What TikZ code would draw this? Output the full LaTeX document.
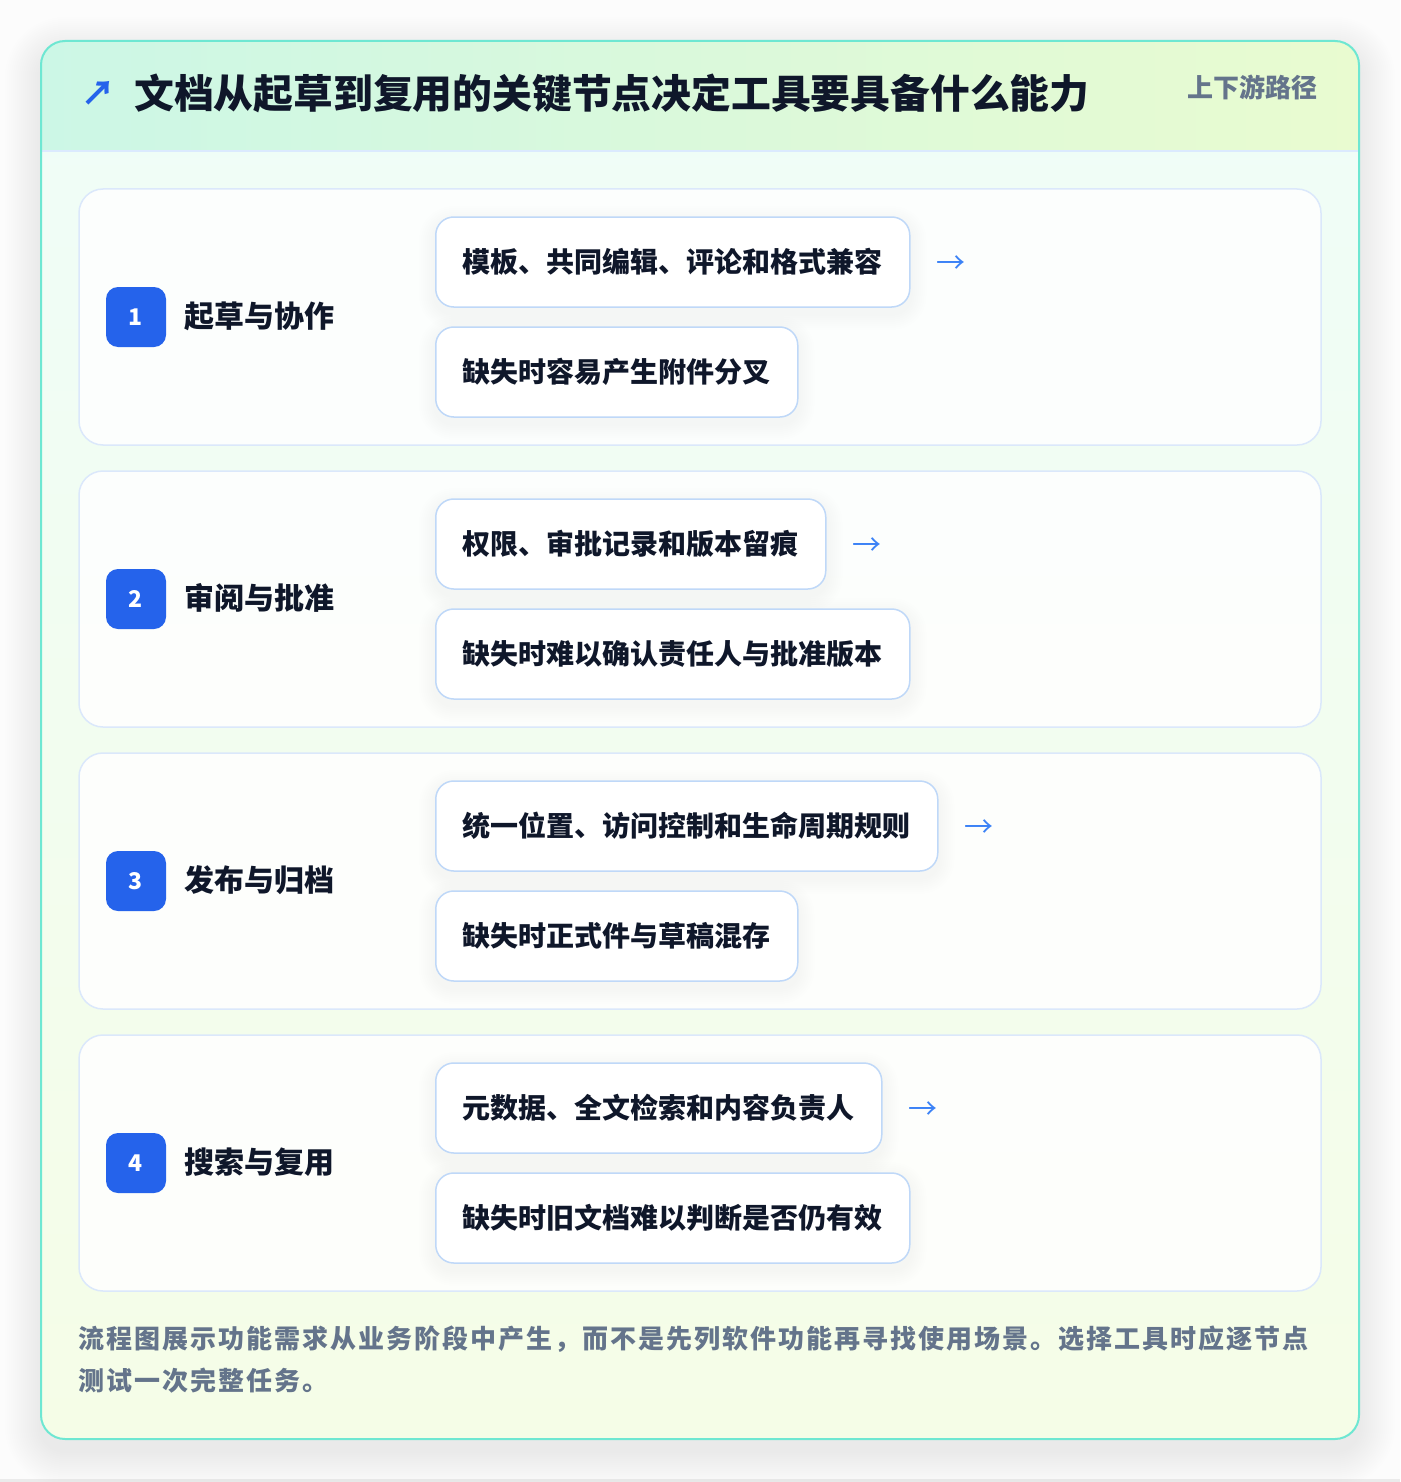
\documentclass[tikz,border=0pt]{standalone}
\usepackage{fontspec}
\setmainfont{Noto Sans CJK SC}
\definecolor{pagebg}{HTML}{FCFCFC}
\definecolor{cardteal}{HTML}{6EE7D2}
\definecolor{hdrL}{HTML}{CCF7E6}
\definecolor{hdrR}{HTML}{E9FBD0}
\definecolor{bodyT}{HTML}{EFFDF8}
\definecolor{bodyB}{HTML}{F5FDE7}
\definecolor{sepline}{HTML}{DBEAFE}
\definecolor{stageline}{HTML}{DBE8FB}
\definecolor{itemline}{HTML}{BFD8F8}
\definecolor{ink}{HTML}{0F172A}
\definecolor{muted}{HTML}{64748B}
\definecolor{badgeblue}{HTML}{2563EB}
\definecolor{arrowblue}{HTML}{3B82F6}
\newdimen\sprgap
\sprgap=2pt
\def\spr#1{\ifx\relax#1\else#1\hskip\sprgap\expandafter\spr\fi}
\pgfdeclarelayer{pagelayer}
\pgfdeclarelayer{cardlayer}
\pgfdeclarelayer{shadowlayer}
\pgfsetlayers{pagelayer,cardlayer,shadowlayer,main}
\tikzset{
  stagecard/.style={draw=stageline, line width=1.5pt, fill=white, fill opacity=0.85, draw opacity=1, rounded corners=24pt},
  itembox/.style={draw=itemline, line width=1.5pt, fill=white, rounded corners=18pt, minimum height=90pt, inner xsep=27pt, inner ysep=0pt, anchor=west, font=\fontsize{28pt}{34pt}\selectfont\bfseries, text=ink},
  badge/.style={fill=badgeblue, rounded corners=12pt, minimum width=60pt, minimum height=60pt, inner sep=0pt, text=white, font=\fontsize{23pt}{27pt}\selectfont\bfseries},
  stagelabel/.style={anchor=west, inner sep=0pt, text=ink, font=\fontsize{30pt}{36pt}\selectfont\bfseries},
  flowarrow/.style={inner sep=0pt, text=arrowblue, font=\fontsize{29pt}{34pt}\selectfont},
  footnote/.style={anchor=west, inner sep=0pt, text=muted, font=\fontsize{26pt}{32pt}\selectfont\bfseries},
}
\begin{document}
\begin{tikzpicture}[x=1pt,y=-1pt]
\useasboundingbox (0,0) rectangle (1400,1482);
\begin{pgfonlayer}{pagelayer}
\fill[pagebg] (0,0) rectangle (1400,1482);
\fill[black!8] (0,1479) rectangle (1400,1482);
% soft shadow of the outer card
\foreach \k in {2,4,...,36}{
  \fill[black, opacity=0.0045, rounded corners=24pt+\k pt] (41-\k,41-\k+12) rectangle (1359+\k,1439+\k+12);
}
\end{pgfonlayer}
\begin{pgfonlayer}{cardlayer}
\begin{scope}
  \clip[rounded corners=24pt] (41,41) rectangle (1359,1439);
  \shade[top color=bodyT, bottom color=bodyB] (41,41) rectangle (1359,1439);
  \shade[left color=hdrL, right color=hdrR] (41,41) rectangle (1359,151);
\end{scope}
\draw[sepline, line width=1.5pt] (41,151) -- (1359,151);
\draw[cardteal, line width=2pt, rounded corners=24pt] (41,41) rectangle (1359,1439);
\foreach \T in {189,471,753,1035}{
  \path[stagecard] (79,\T) rectangle (1321,\T+256);
}
\end{pgfonlayer}
% header
\node[anchor=center, inner sep=0pt, text=badgeblue, font=\fontsize{34pt}{40pt}\selectfont\bfseries] (hdrarrow) at (98,93) {↗};
\node[anchor=west, inner sep=0pt, text=ink, font=\fontsize{39.8pt}{46pt}\selectfont\bfseries] (title) at (134,93) {文档从起草到复用的关键节点决定工具要具备什么能力};
\node[anchor=east, inner sep=0pt, text=muted, font=\fontsize{26pt}{32pt}\selectfont\bfseries] (path) at (1318,87) {上下游路径};
% stages
\foreach \T/\n/\lab/\a/\b [count=\i] in {
  189/1/起草与协作/模板、共同编辑、评论和格式兼容/缺失时容易产生附件分叉,
  471/2/审阅与批准/权限、审批记录和版本留痕/缺失时难以确认责任人与批准版本,
  753/3/发布与归档/统一位置、访问控制和生命周期规则/缺失时正式件与草稿混存,
  1035/4/搜索与复用/元数据、全文检索和内容负责人/缺失时旧文档难以判断是否仍有效}{
  \node[badge] (badge\i) at (136,\T+128) {\n};
  \node[stagelabel] (label\i) at (184,\T+127) {\lab};
  \node[itembox] (need\i) at (435,\T+73) {\a};
  \node[itembox] (miss\i) at (435,\T+183) {\b};
  \node[flowarrow, anchor=west] (arr\i) at ([xshift=26pt,yshift=-3pt]need\i.east) {→};
  \begin{pgfonlayer}{shadowlayer}
    \foreach \bx in {need\i,miss\i}{
      \foreach \k in {2,4,...,16}{
        \fill[black, opacity=0.0045, rounded corners=18pt+\k pt]
          ([xshift=-\k pt, yshift=-\k pt-6pt]\bx.south west) rectangle ([xshift=\k pt, yshift=\k pt-6pt]\bx.north east);
      }
    }
  \end{pgfonlayer}
}
% footer
\node[footnote] (foot1) at (78,1339) {\spr 流程图展示功能需求从业务阶段中产生，而不是先列软件功能再寻找使用场景。选择工具时应逐节点\relax\unskip};
\node[footnote] (foot2) at (78,1381) {\spr 测试一次完整任务。\relax\unskip};
\end{tikzpicture}
\end{document}
